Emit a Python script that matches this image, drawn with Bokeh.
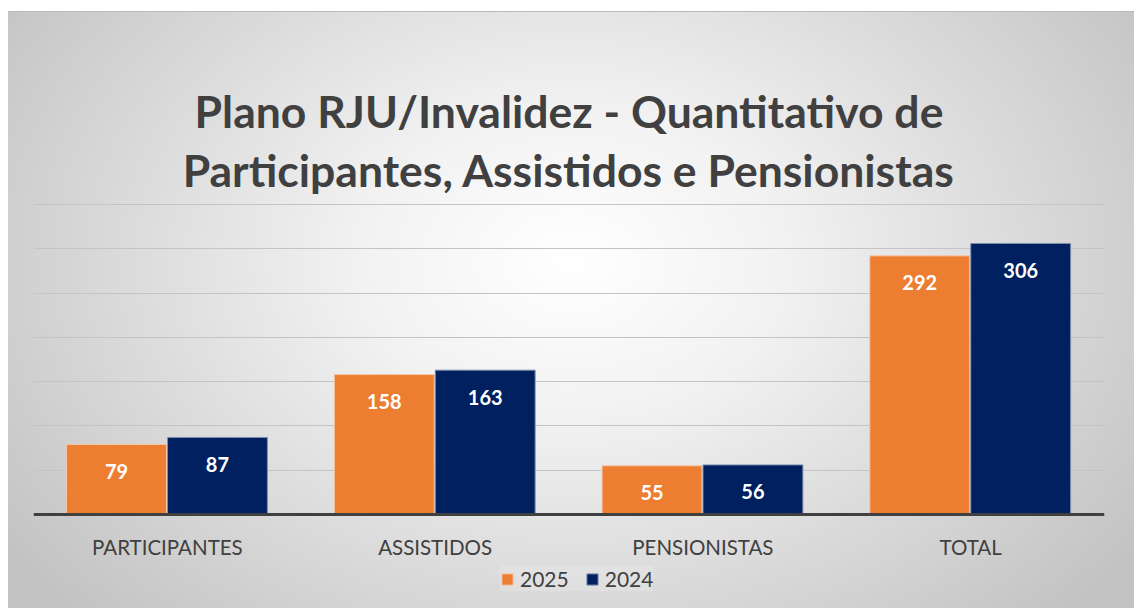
from bokeh.plotting import figure
from bokeh.models import (ColumnDataSource, FactorRange, Range1d, LabelSet, Title,
                          Legend, LegendItem, Span)
from bokeh.core.properties import value
from bokeh.transform import dodge
from bokeh.embed import file_html
from bokeh.resources import INLINE

categories = ["PARTICIPANTES", "ASSISTIDOS", "PENSIONISTAS", "TOTAL"]
series_names = ["2025", "2024"]
values_2025 = [79, 158, 55, 292]
values_2024 = [87, 163, 56, 306]
colors = ["#ED7D31", "#002060"]
grid_ticks = [0, 50, 100, 150, 200, 250, 300, 350]

title_line1 = "Plano RJU/Invalidez - Quantitativo de"
title_line2 = "Participantes, Assistidos e Pensionistas"

src = ColumnDataSource(dict(
    cat=categories,
    zero=[0] * len(categories),
    v2025=values_2025,
    v2024=values_2024,
    l2025=[str(v) for v in values_2025],
    l2024=[str(v) for v in values_2024],
))

p = figure(
    width=1126, height=597,
    x_range=FactorRange(factors=categories, range_padding=0),
    y_range=Range1d(-106.1, 354.5),
    output_backend="svg", toolbar_location=None,
    min_border_left=25, min_border_right=30,
    min_border_top=189, min_border_bottom=0,
)
p.border_fill_color = None
p.background_fill_color = None
p.outline_line_color = None
p.styles = {
    "margin": "11px 0 0 8px",
    "background-image": "radial-gradient(ellipse 62% 85% at 50% 42%, #ffffff 0%, #f2f2f2 30%, #c2c2c2 100%)",
    "box-shadow": "inset 0 1px 0 #b8b8b8",
}

# titles (added bottom line first, stacks outward)
t2 = Title(text=title_line2, align="center", text_font="Lato", text_font_style="bold",
           text_font_size="44.5px", text_color="#404040", standoff=9)
t1 = Title(text=title_line1, align="center", text_font="Lato", text_font_style="bold",
           text_font_size="44.5px", text_color="#404040", standoff=0)
p.add_layout(t2, "above")
p.add_layout(t1, "above")

p.xaxis.visible = False
p.yaxis.visible = False
p.ygrid.grid_line_color = "#c4c4c4"
p.ygrid.grid_line_width = 1
p.ygrid.ticker = grid_ticks
p.xgrid.grid_line_color = None

r1 = p.vbar(x=dodge("cat", -0.19, range=p.x_range), top="v2025", width=0.373, source=src,
            fill_color=colors[0], line_color="#f4c7a8", line_width=1)
r2 = p.vbar(x=dodge("cat", 0.187, range=p.x_range), top="v2024", width=0.373, source=src,
            fill_color=colors[1], line_color="#7f8fb0", line_width=1)

# baseline axis line
p.add_layout(Span(location=0, dimension="width", line_color="#404040", line_width=3))

lab1 = LabelSet(x=dodge("cat", -0.19, range=p.x_range), y="v2025", text="l2025", source=src,
                y_offset=-27, text_align="center", text_baseline="middle",
                text_font=value("Lato"), text_font_style="bold", text_font_size="20px",
                text_color="white")
lab2 = LabelSet(x=dodge("cat", 0.187, range=p.x_range), y="v2024", text="l2024", source=src,
                y_offset=-27, text_align="center", text_baseline="middle",
                text_font=value("Lato"), text_font_style="bold", text_font_size="20px",
                text_color="white")
cat_labels = LabelSet(x="cat", y="zero", text="cat", source=src,
                      y_offset=-32, text_align="center", text_baseline="middle",
                      text_font=value("Lato"), text_font_size="20.5px",
                      text_color="#404040")
p.add_layout(lab1)
p.add_layout(lab2)
p.add_layout(cat_labels)

legend = Legend(items=[LegendItem(label=series_names[0], renderers=[r1]),
                       LegendItem(label=series_names[1], renderers=[r2])],
                orientation="horizontal", location=(467, 17),
                glyph_width=14, glyph_height=14, spacing=16,
                label_text_font="Lato", label_text_font_size="21px",
                label_text_color="#404040", label_standoff=6,
                background_fill_color="white", background_fill_alpha=0.15,
                border_line_color=None, padding=6, margin=0)
p.add_layout(legend)

open("out.html", "w").write(file_html(p, INLINE))
